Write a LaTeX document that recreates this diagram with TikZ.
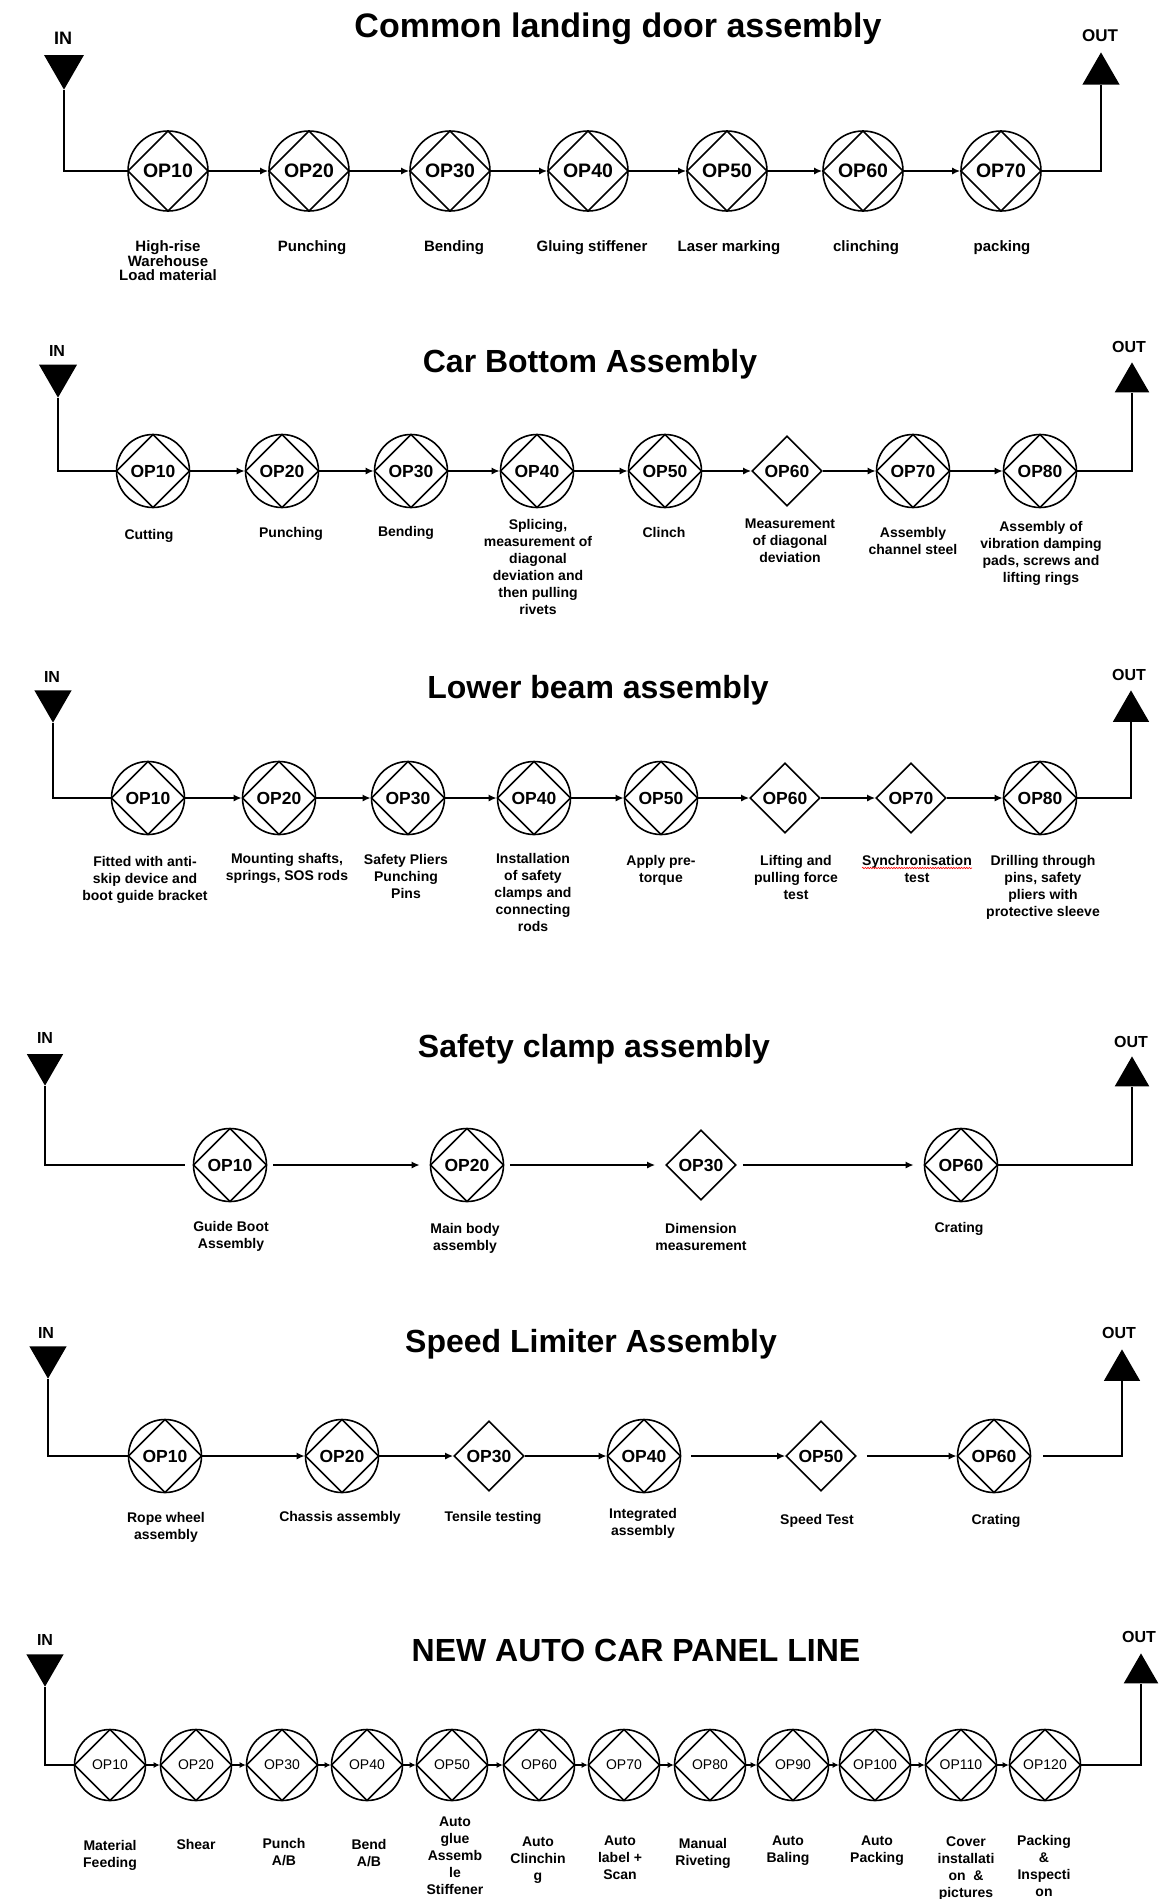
\documentclass[tikz,border=0pt]{standalone}
\usepackage{fontspec}
\setmainfont{Liberation Sans}
\usetikzlibrary{shapes.geometric, arrows.meta, decorations.pathmorphing}

\tikzset{
	opc/.style={draw, circle, line width=1.6pt, inner sep=0pt, minimum size=#1,
		path picture={\draw[line width=1.6pt] (path picture bounding box.north) -- (path picture bounding box.east) -- (path picture bounding box.south) -- (path picture bounding box.west) -- cycle;}},
	opd/.style={draw, diamond, line width=1.6pt, inner sep=0pt, minimum size=#1},
	opa/.style={opc=80, font=\bfseries\fontsize{19.5}{20}\selectfont},
	opb/.style={opc=73, font=\bfseries\fontsize{17.5}{18}\selectfont},
	dib/.style={opd=70, font=\bfseries\fontsize{17.5}{18}\selectfont},
	opf/.style={opc=71, font=\fontsize{14}{14}\selectfont},
	flow/.style={line width=2.4pt, -{Latex[length=8pt, width=7pt]}},
	flowf/.style={line width=2pt, -{Latex[length=6pt, width=6pt]}},
	feed/.style={line width=1.6pt},
	intri/.style={regular polygon, regular polygon sides=3, shape border rotate=180, fill=black, inner sep=0pt, minimum size=#1, anchor=corner 1},
	outtri/.style={regular polygon, regular polygon sides=3, fill=black, inner sep=0pt, minimum size=#1, anchor=corner 1},
	ttl/.style={anchor=base, font=\bfseries\fontsize{32}{36}\selectfont},
	io/.style={inner sep=0pt, font=\bfseries\fontsize{#1}{#1}\selectfont},
	lbl/.style={anchor=north, align=center, inner sep=0pt, font=\bfseries\fontsize{14}{17}\selectfont},
	lbla/.style={lbl, font=\bfseries\fontsize{15}{14}\selectfont},
	squig/.style={red, line width=0.6pt, decorate, decoration={snake, amplitude=0.7pt, segment length=2.6pt}},
}

\begin{document}
\begin{tikzpicture}[x=1pt, y=-1pt]
	\useasboundingbox (0,0) rectangle (1170,1899);

	\node[ttl, font=\bfseries\fontsize{34}{38}\selectfont] (ta) at (618,37) {Common landing door assembly};
	\node[io=18] (ina) at (63,38) {IN};
	\node[intri=46] (tina) at (64,90) {};
	\node[io=17] (outa) at (1100,36) {OUT};
	\node[outtri=43] (touta) at (1101,52) {};
	\node[opa] (a1) at (168,171) {OP10};
	\node[opa] (a2) at (309,171) {OP20};
	\node[opa] (a3) at (450,171) {OP30};
	\node[opa] (a4) at (588,171) {OP40};
	\node[opa] (a5) at (727,171) {OP50};
	\node[opa] (a6) at (863,171) {OP60};
	\node[opa] (a7) at (1001,171) {OP70};
	\node[lbla] (la1) at (168,240) {High-rise\\Warehouse\\Load material};
	\node[lbla] (la2) at (312,240) {Punching};
	\node[lbla] (la3) at (454,240) {Bending};
	\node[lbla] (la4) at (592,240) {Gluing stiffener};
	\node[lbla] (la5) at (729,240) {Laser marking};
	\node[lbla] (la6) at (866,240) {clinching};
	\node[lbla] (la7) at (1002,240) {packing};
	\draw[feed] (tina.corner 1) |- (a1);
	\draw[flow] (a1) -- (a2);
	\draw[flow] (a2) -- (a3);
	\draw[flow] (a3) -- (a4);
	\draw[flow] (a4) -- (a5);
	\draw[flow] (a5) -- (a6);
	\draw[flow] (a6) -- (a7);
	\draw[feed] (a7) -| (touta.side 2);

	\node[ttl] (tb) at (590,372) {Car Bottom Assembly};
	\node[io=16] (inb) at (57,351) {IN};
	\node[intri=44] (tinb) at (58,398) {};
	\node[io=16] (outb) at (1129,347) {OUT};
	\node[outtri=40] (toutb) at (1132,362) {};
	\node[opb] (b1) at (153,471) {OP10};
	\node[opb] (b2) at (282,471) {OP20};
	\node[opb] (b3) at (411,471) {OP30};
	\node[opb] (b4) at (537,471) {OP40};
	\node[opb] (b5) at (665,471) {OP50};
	\node[dib] (b6) at (787,471) {OP60};
	\node[opb] (b7) at (913,471) {OP70};
	\node[opb] (b8) at (1040,471) {OP80};
	\node[lbl] (lb1) at (149,529) {Cutting};
	\node[lbl] (lb2) at (291,527) {Punching};
	\node[lbl] (lb3) at (406,526) {Bending};
	\node[lbl] (lb4) at (538,519) {Splicing,\\measurement of\\diagonal\\deviation and\\then pulling\\rivets};
	\node[lbl] (lb5) at (664,527) {Clinch};
	\node[lbl] (lb6) at (790,519) {Measurement\\of diagonal\\deviation};
	\node[lbl] (lb7) at (913,527) {Assembly\\channel steel};
	\node[lbl] (lb8) at (1041,521) {Assembly of\\vibration damping\\pads, screws and\\lifting rings};
	\draw[feed] (tinb.corner 1) |- (b1);
	\draw[flow] (b1) -- (b2);
	\draw[flow] (b2) -- (b3);
	\draw[flow] (b3) -- (b4);
	\draw[flow] (b4) -- (b5);
	\draw[flow] (b5) -- (b6);
	\draw[flow] (b6) -- (b7);
	\draw[flow] (b7) -- (b8);
	\draw[feed] (b8) -| (toutb.side 2);

	\node[ttl] (tc) at (598,698) {Lower beam assembly};
	\node[io=16] (inc) at (52,677) {IN};
	\node[intri=43] (tinc) at (53,723) {};
	\node[io=16] (outc) at (1129,675) {OUT};
	\node[outtri=42] (toutc) at (1131,690) {};
	\node[opb] (c1) at (148,798) {OP10};
	\node[opb] (c2) at (279,798) {OP20};
	\node[opb] (c3) at (408,798) {OP30};
	\node[opb] (c4) at (534,798) {OP40};
	\node[opb] (c5) at (661,798) {OP50};
	\node[dib] (c6) at (785,798) {OP60};
	\node[dib] (c7) at (911,798) {OP70};
	\node[opb] (c8) at (1040,798) {OP80};
	\node[lbl] (lc1) at (145,856) {Fitted with anti-\\skip device and\\boot guide bracket};
	\node[lbl] (lc2) at (287,853) {Mounting shafts,\\springs, SOS rods};
	\node[lbl] (lc3) at (406,854) {Safety Pliers\\Punching\\Pins};
	\node[lbl] (lc4) at (533,853) {Installation\\of safety\\clamps and\\connecting\\rods};
	\node[lbl] (lc5) at (661,855) {Apply pre-\\torque};
	\node[lbl] (lc6) at (796,855) {Lifting and\\pulling force\\test};
	\node[lbl] (lc7) at (917,855) {Synchronisation\\test};
	\node[lbl] (lc8) at (1043,855) {Drilling through\\pins, safety\\pliers with\\protective sleeve};
	\draw[squig] ([yshift=-13pt]lc7.north west) -- ([yshift=-13pt]lc7.north east);
	\draw[feed] (tinc.corner 1) |- (c1);
	\draw[flow] (c1) -- (c2);
	\draw[flow] (c2) -- (c3);
	\draw[flow] (c3) -- (c4);
	\draw[flow] (c4) -- (c5);
	\draw[flow] (c5) -- (c6);
	\draw[flow] (c6) -- (c7);
	\draw[flow] (c7) -- (c8);
	\draw[feed] (c8) -| (toutc.side 2);

	\node[ttl] (td) at (594,1057) {Safety clamp assembly};
	\node[io=16] (ind) at (45,1038) {IN};
	\node[intri=42] (tind) at (45,1086) {};
	\node[io=16] (outd) at (1131,1042) {OUT};
	\node[outtri=40] (toutd) at (1132,1056) {};
	\node[opb] (d1) at (230,1165) {OP10};
	\node[opb] (d2) at (467,1165) {OP20};
	\node[dib] (d3) at (701,1165) {OP30};
	\node[opb] (d4) at (961,1165) {OP60};
	\node[lbl] (ld1) at (231,1221) {Guide Boot\\Assembly};
	\node[lbl] (ld2) at (465,1223) {Main body\\assembly};
	\node[lbl] (ld3) at (701,1223) {Dimension\\measurement};
	\node[lbl] (ld4) at (959,1222) {Crating};
	\draw[feed, shorten >=8pt] (tind.corner 1) |- (d1);
	\draw[flow, shorten <=6pt, shorten >=10pt] (d1) -- (d2);
	\draw[flow, shorten <=6pt, shorten >=10pt] (d2) -- (d3);
	\draw[flow, shorten <=6pt, shorten >=10pt] (d3) -- (d4);
	\draw[feed] (d4) -| (toutd.side 2);

	\node[ttl] (te) at (591,1352) {Speed Limiter Assembly};
	\node[io=16] (ine) at (46,1333) {IN};
	\node[intri=43] (tine) at (48,1379) {};
	\node[io=16] (oute) at (1119,1333) {OUT};
	\node[outtri=42] (toute) at (1122,1349) {};
	\node[opb] (e1) at (165,1456) {OP10};
	\node[opb] (e2) at (342,1456) {OP20};
	\node[dib] (e3) at (489,1456) {OP30};
	\node[opb] (e4) at (644,1456) {OP40};
	\node[dib] (e5) at (821,1456) {OP50};
	\node[opb] (e6) at (994,1456) {OP60};
	\node[lbl] (le1) at (166,1512) {Rope wheel\\assembly};
	\node[lbl] (le2) at (340,1511) {Chassis assembly};
	\node[lbl] (le3) at (493,1511) {Tensile testing};
	\node[lbl] (le4) at (643,1508) {Integrated\\assembly};
	\node[lbl] (le5) at (817,1514) {Speed Test};
	\node[lbl] (le6) at (996,1514) {Crating};
	\draw[feed] (tine.corner 1) |- (e1);
	\draw[flow] (e1) -- (e2);
	\draw[flow] (e2) -- (e3);
	\draw[flow] (e3) -- (e4);
	\draw[flow, shorten <=10pt] (e4) -- (e5);
	\draw[flow, shorten <=10pt] (e5) -- (e6);
	\draw[feed, shorten <=12pt] (e6) -| (toute.side 2);

	\node[ttl] (tf) at (636,1661) {NEW AUTO CAR PANEL LINE};
	\node[io=16] (inf) at (45,1640) {IN};
	\node[intri=43] (tinf) at (45,1687) {};
	\node[io=16] (outf) at (1139,1637) {OUT};
	\node[outtri=40] (toutf) at (1141,1653) {};
	\node[opf] (f1) at (110,1765) {OP10};
	\node[opf] (f2) at (196,1765) {OP20};
	\node[opf] (f3) at (282,1765) {OP30};
	\node[opf] (f4) at (367,1765) {OP40};
	\node[opf] (f5) at (452,1765) {OP50};
	\node[opf] (f6) at (539,1765) {OP60};
	\node[opf] (f7) at (624,1765) {OP70};
	\node[opf] (f8) at (710,1765) {OP80};
	\node[opf] (f9) at (793,1765) {OP90};
	\node[opf] (f10) at (875,1765) {OP100};
	\node[opf] (f11) at (961,1765) {OP110};
	\node[opf] (f12) at (1045,1765) {OP120};
	\node[lbl] (lf1) at (110,1840) {Material\\Feeding};
	\node[lbl] (lf2) at (196,1839) {Shear};
	\node[lbl] (lf3) at (284,1838) {Punch\\A/B};
	\node[lbl] (lf4) at (369,1839) {Bend\\A/B};
	\node[lbl] (lf5) at (455,1817) {Auto\\glue\\Assemb\\le\\Stiffener};
	\node[lbl] (lf6) at (538,1837) {Auto\\Clinchin\\g};
	\node[lbl] (lf7) at (620,1836) {Auto\\label +\\Scan};
	\node[lbl] (lf8) at (703,1838) {Manual\\Riveting};
	\node[lbl] (lf9) at (788,1836) {Auto\\Baling};
	\node[lbl] (lf10) at (877,1836) {Auto\\Packing};
	\node[lbl] (lf11) at (966,1836) {Cover\\installati\\on\ \ \&\\pictures};
	\node[lbl] (lf12) at (1044,1835) {Packing\\\&\\Inspecti\\on};
	\draw[feed] (tinf.corner 1) |- (f1);
	\draw[flowf] (f1) -- (f2);
	\draw[flowf] (f2) -- (f3);
	\draw[flowf] (f3) -- (f4);
	\draw[flowf] (f4) -- (f5);
	\draw[flowf] (f5) -- (f6);
	\draw[flowf] (f6) -- (f7);
	\draw[flowf] (f7) -- (f8);
	\draw[flowf] (f8) -- (f9);
	\draw[flowf] (f9) -- (f10);
	\draw[flowf] (f10) -- (f11);
	\draw[flowf] (f11) -- (f12);
	\draw[feed] (f12) -| (toutf.side 2);
\end{tikzpicture}
\end{document}
